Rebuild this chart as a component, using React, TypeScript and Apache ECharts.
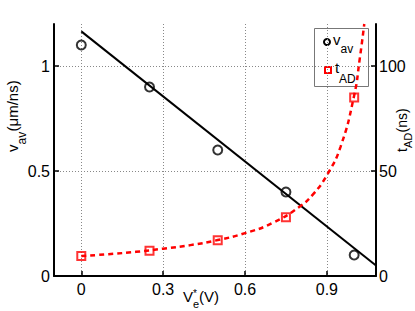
import React, { useEffect, useRef } from 'react';
import * as echarts from 'echarts';

// Tick values
const xTicks = [0, 0.3, 0.6, 0.9];
const leftTicks = [0, 0.5, 1];
const rightTicks = [0, 50, 100];

// Measured points
const vePoints = [0, 0.25, 0.5, 0.75, 1.0];
const vAv = [1.1, 0.9, 0.6, 0.4, 0.1];
const tAD = [9.5, 12, 17, 28, 85];

// Fitted curves
const vFitX = [0, 1.08];
const vFitY = [1.165, 0.05];
const tFitX = [0, 0.1, 0.2, 0.3, 0.4, 0.5, 0.6, 0.7, 0.8, 0.85, 0.9, 0.95, 1.0, 1.02, 1.037];
const tFitY = [9.5, 10.4, 11.5, 13, 14.7, 17.1, 20.4, 25.2, 33, 39, 48, 61.5, 86, 103, 120];

const FF = '"Liberation Sans", Arial, Helvetica, sans-serif';

function txt(text: string, x: number, baseline: number, fs: number, fill = '#000') {
  return {
    type: 'text',
    x,
    y: baseline - 0.35 * fs,
    style: {
      text,
      fill,
      fontSize: fs,
      fontFamily: FF,
      align: 'left',
      verticalAlign: 'middle',
      textAlign: 'left',
      textVerticalAlign: 'middle',
    },
  };
}

export default function App() {
  const ref = useRef<HTMLDivElement>(null);
  useEffect(() => {
    if (!ref.current) return;
    const chart = echarts.init(ref.current, undefined, { renderer: 'svg' });
    const axisLine = { show: true, onZero: false, lineStyle: { color: '#000', width: 2 } };
    const tickStyle = { color: '#000', width: 1.5 };
    const option: any = {
      animation: false,
      backgroundColor: '#fff',
      grid: { left: 54, right: 39, top: 24, bottom: 35, containLabel: false },
      xAxis: {
        type: 'value',
        min: -0.1,
        max: 1.08,
        axisLine,
        axisTick: { show: true, inside: true, length: 5, customValues: xTicks, lineStyle: tickStyle },
        axisLabel: {
          customValues: xTicks,
          fontSize: 16,
          color: '#000',
          fontFamily: FF,
          margin: 5,
          formatter: (v: number) => String(v),
        },
        splitLine: { show: true, lineStyle: { color: '#888', width: 1, type: [1, 2] } },
      },
      yAxis: [
        {
          type: 'value',
          position: 'left',
          min: 0,
          max: 1.2,
          axisLine,
          axisTick: { show: true, inside: true, length: 5, customValues: leftTicks, lineStyle: tickStyle },
          axisLabel: {
            customValues: leftTicks,
            fontSize: 16,
            color: '#000',
            fontFamily: FF,
            margin: 4,
            formatter: (v: number) => String(v),
          },
          splitLine: { show: true, lineStyle: { color: '#888', width: 1, type: [1, 2] } },
        },
        {
          type: 'value',
          position: 'right',
          min: 0,
          max: 120,
          axisLine,
          axisTick: { show: true, inside: true, length: 5, customValues: rightTicks, lineStyle: tickStyle },
          axisLabel: {
            customValues: rightTicks,
            fontSize: 16,
            color: '#000',
            fontFamily: FF,
            margin: 3,
            formatter: (v: number) => String(v),
          },
          splitLine: { show: false },
        },
      ],
      series: [
        {
          type: 'line',
          data: vFitX.map((x, i) => [x, vFitY[i]]),
          symbol: 'none',
          lineStyle: { color: '#000', width: 2 },
          silent: true,
          z: 2,
        },
        {
          type: 'line',
          yAxisIndex: 1,
          data: tFitX.map((x, i) => [x, tFitY[i]]),
          symbol: 'none',
          smooth: true,
          lineStyle: { color: '#ff0000', width: 2.5, type: [5, 4] },
          silent: true,
          z: 2,
        },
        {
          type: 'scatter',
          data: vePoints.map((x, i) => [x, vAv[i]]),
          symbol: 'circle',
          symbolSize: 9,
          itemStyle: { color: 'transparent', borderColor: '#000', borderWidth: 2 },
          silent: true,
          z: 3,
        },
        {
          type: 'scatter',
          yAxisIndex: 1,
          data: vePoints.map((x, i) => [x, tAD[i]]),
          symbol: 'rect',
          symbolSize: 8,
          itemStyle: { color: 'transparent', borderColor: '#ff0000', borderWidth: 2 },
          silent: true,
          z: 3,
        },
      ],
      graphic: [
        // Legend
        {
          type: 'group',
          z: 100,
          children: [
            {
              type: 'rect',
              shape: { x: 314.5, y: 28.5, width: 54, height: 58 },
              style: { fill: '#fff', stroke: '#777', lineWidth: 1 },
            },
            {
              type: 'circle',
              shape: { cx: 327, cy: 42, r: 3 },
              style: { fill: 'none', stroke: '#000', lineWidth: 2 },
            },
            txt('v', 333, 45, 15),
            txt('av', 340.5, 53, 12),
            {
              type: 'rect',
              shape: { x: 325, y: 67, width: 6, height: 6 },
              style: { fill: '#fff', stroke: '#ff0000', lineWidth: 2 },
            },
            txt('t', 335, 73, 15),
            txt('AD', 339, 83, 12),
          ],
        },
        // Left axis name
        {
          type: 'group',
          x: 18,
          y: 152,
          rotation: Math.PI / 2,
          children: [txt('v', 0, 0, 15), txt('av', 7.5, 8, 12), txt('(μm/ns)', 20.5, 0, 15)],
        },
        // Right axis name
        {
          type: 'group',
          x: 407,
          y: 152,
          rotation: Math.PI / 2,
          children: [txt('t', 0, 0, 14), txt('AD', 4, 5, 11), txt('(ns)', 19.5, 0, 14)],
        },
        // X axis name
        {
          type: 'group',
          children: [
            txt('V', 183, 302, 15),
            txt('*', 193, 297, 10),
            txt('e', 193, 308, 11),
            txt('(V)', 199, 302, 15),
          ],
        },
      ],
    };
    chart.setOption(option);
    return () => chart.dispose();
  }, []);
  return (
    <div
      ref={ref}
      style={{ position: 'fixed', left: 0, top: 0, width: 415, height: 311, background: '#fff' }}
    />
  );
}
